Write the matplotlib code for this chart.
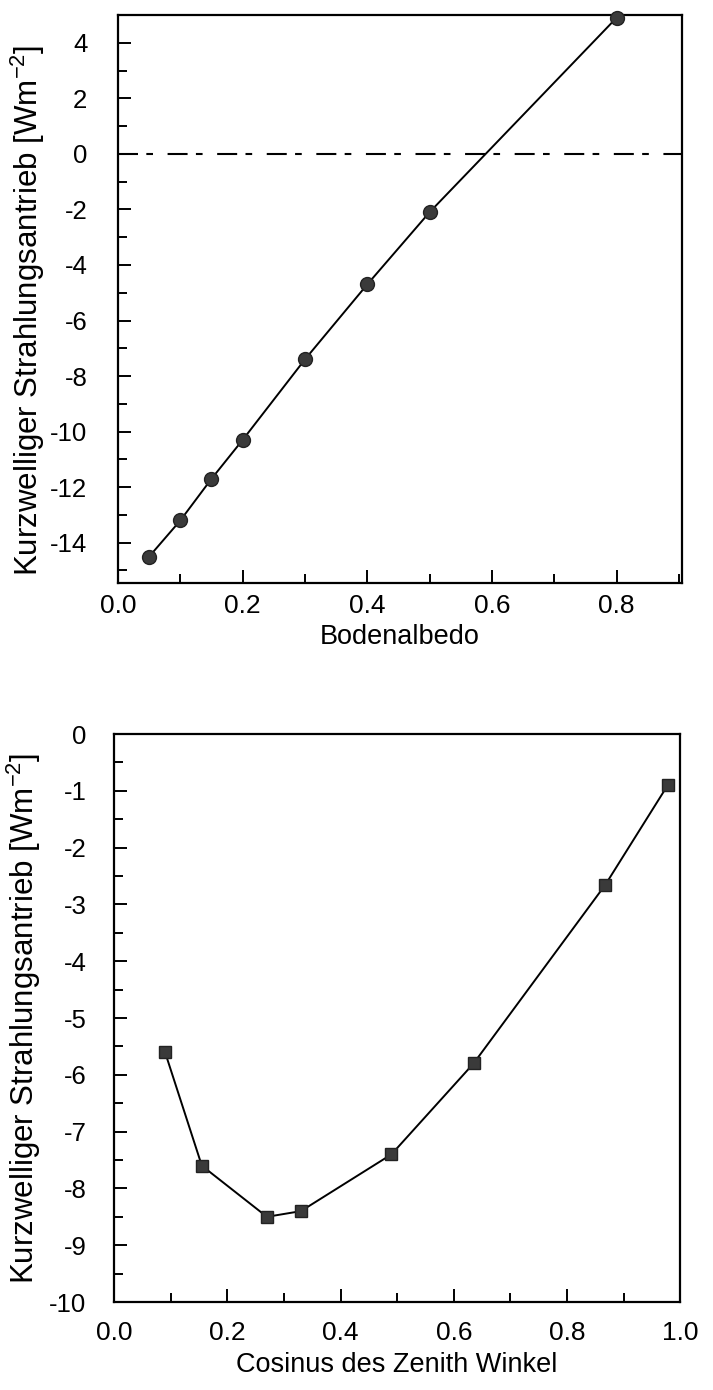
import matplotlib
matplotlib.use("Agg")
import matplotlib.pyplot as plt
from matplotlib.ticker import MultipleLocator, FormatStrFormatter

plt.rcParams['font.family'] = ['Liberation Sans', 'DejaVu Sans']
plt.rcParams['axes.unicode_minus'] = False

# Bodenalbedo vs. forcing
albedo = [0.05, 0.10, 0.15, 0.20, 0.30, 0.40, 0.50, 0.80]
forcing_albedo = [-14.5, -13.2, -11.7, -10.3, -7.4, -4.7, -2.1, 4.9]

# cosine of zenith angle vs. forcing
cos_zenith = [0.09, 0.155, 0.27, 0.33, 0.49, 0.635, 0.868, 0.978]
forcing_zenith = [-5.6, -7.6, -8.5, -8.4, -7.4, -5.8, -2.65, -0.9]

ylabel = 'Kurzwelliger Strahlungsantrieb [Wm$^{\\mathregular{-2}}$]'

fig = plt.figure(figsize=(7.13, 13.9), dpi=100)
ax1 = fig.add_axes([0.1655, 0.5806, 0.791, 0.4086])
ax2 = fig.add_axes([0.160, 0.0633, 0.794, 0.4086])


def style(ax, xpad, ypad):
    for s in ax.spines.values():
        s.set_linewidth(1.6)
    ax.tick_params(which='both', direction='in', top=False, right=False,
                   width=1.4)
    ax.tick_params(axis='x', labelsize=19, pad=xpad)
    ax.tick_params(axis='y', labelsize=18.5, pad=ypad)
    ax.tick_params(which='major', length=9.5)
    ax.tick_params(which='minor', length=6.5)


ax1.axhline(0, color='black', lw=1.5, dashes=(9.6, 4, 3.2, 7))
ax1.plot(albedo, forcing_albedo, color='black', lw=1.4, marker='o',
         markersize=10, markerfacecolor='#3a3a3a', markeredgecolor='#222222',
         clip_on=False, zorder=3)
ax1.set_xlim(0, 0.905)
ax1.set_ylim(-15.45, 5.0)
ax1.xaxis.set_major_locator(MultipleLocator(0.2))
ax1.xaxis.set_minor_locator(MultipleLocator(0.1))
ax1.yaxis.set_major_locator(MultipleLocator(2))
ax1.yaxis.set_minor_locator(MultipleLocator(1))
ax1.xaxis.set_major_formatter(FormatStrFormatter('%.1f'))
ax1.set_xlabel('Bodenalbedo', fontsize=19.5, labelpad=4)
ax1.set_ylabel(ylabel, fontsize=22.5, labelpad=2)
ax1.yaxis.label.set_y(0.48)
style(ax1, 8, 22)

ax2.plot(cos_zenith, forcing_zenith, color='black', lw=1.4, marker='s',
         markersize=9, markerfacecolor='#3a3a3a', markeredgecolor='#222222',
         clip_on=False, zorder=3)
ax2.set_xlim(0, 1.0)
ax2.set_ylim(-10, 0)
ax2.xaxis.set_major_locator(MultipleLocator(0.2))
ax2.xaxis.set_minor_locator(MultipleLocator(0.1))
ax2.yaxis.set_major_locator(MultipleLocator(1))
ax2.yaxis.set_minor_locator(MultipleLocator(0.5))
ax2.xaxis.set_major_formatter(FormatStrFormatter('%.1f'))
ax2.set_xlabel('Cosinus des Zenith Winkel', fontsize=19.5, labelpad=5)
ax2.set_ylabel(ylabel, fontsize=22.5, labelpad=4)
style(ax2, 14, 20)

fig.savefig('out.png', dpi=100)
